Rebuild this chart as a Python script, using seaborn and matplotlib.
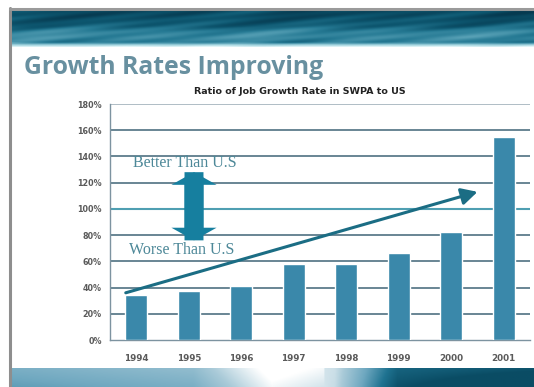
import numpy as np
import pandas as pd
import matplotlib
matplotlib.use("Agg")
import matplotlib.pyplot as plt
import seaborn as sns
from matplotlib.patches import FancyArrowPatch
from matplotlib.colors import LinearSegmentedColormap

# ---------------- data ----------------
years = ["1994", "1995", "1996", "1997", "1998", "1999", "2000", "2001"]
ratio_pct = [34, 37, 41, 58, 58, 66, 82, 155]
y_ticks = [0, 20, 40, 60, 80, 100, 120, 140, 160, 180]

slide_title = "Growth Rates Improving"
chart_title = "Ratio of Job Growth Rate in SWPA to US"
better_label = "Better Than U.S"
worse_label = "Worse Than U.S"

# annotation anchors (category index, percent)
trend_start = (-0.2, 36)
trend_end = (6.5, 113)
dbl_top = (1.1, 128)
dbl_bottom = (1.1, 76)
better_pos = (-0.06, 135)
worse_pos = (-0.13, 69)

df = pd.DataFrame({"year": years, "ratio": ratio_pct})

sns.set_theme(style="white")
plt.rcParams["font.family"] = ["DejaVu Sans"]

W, H = 534, 387
fig = plt.figure(figsize=(W / 100, H / 100), dpi=100)
fig.patch.set_facecolor("white")

# ---------------- slide background ----------------
bg = fig.add_axes([0, 0, 1, 1], zorder=-5)
bg.set_xlim(0, W)
bg.set_ylim(H, 0)
bg.axis("off")

# top banner
bx = np.linspace(0, 1, 520)
by = np.linspace(0, 1, 40)
X, Y = np.meshgrid(bx, by)
prof = np.interp(Y, [0, 0.15, 0.45, 0.6, 0.75, 0.88, 0.94, 1.0],
                 [0.1, 0.12, 0.25, 0.45, 0.5, 0.42, 0.75, 0.95])
streak = 0.09 * np.sin(X * 23 + Y * 9) * np.sin(X * 7 + 1.3) + 0.05 * np.sin(X * 41 + Y * 30)
val = np.clip(prof + streak * (1 - 0.8 * (Y > 0.9)), 0, 1)
cmap_top = LinearSegmentedColormap.from_list(
    "topb", ["#063a50", "#0d566f", "#267a94", "#4f9ab0", "#9fd2dd", "#eefcfd"])
bg.imshow(val, cmap=cmap_top, vmin=0, vmax=1, aspect="auto",
          extent=(10, W, 47, 9), interpolation="bilinear", zorder=1)

# bottom banner
bx2 = np.linspace(0, 1, 520)
by2 = np.linspace(0, 1, 20)
X2, Y2 = np.meshgrid(bx2, by2)
hprof = np.interp(X2, [0, 0.35, 0.5, 0.62, 0.74, 1.0], [0.45, 0.55, 0.97, 0.85, 0.15, 0.05])
hprof = hprof + (X2 > 0.6) * (X2 - 0.6) * (-0.8) * (Y2) + 0.1 * (1 - Y2) * (X2 < 0.6)
cmap_bot = LinearSegmentedColormap.from_list(
    "botb", ["#0a4c64", "#1f7391", "#6fa8c0", "#a9cad8", "#ffffff"])
bg.imshow(np.clip(hprof, 0, 1), cmap=cmap_bot, vmin=0, vmax=1, aspect="auto",
          extent=(10, W, H, 368), interpolation="bilinear", zorder=1)

# gray frame
bg.plot([10, 10], [8, H], color="#8e8e8e", lw=2.2, zorder=3)
bg.plot([10, W], [8.5, 8.5], color="#9a9a9a", lw=2.2, zorder=3)

# slide title
fig.text(24 / W, 1 - 68 / H, slide_title, fontsize=17.8, fontweight="bold",
         family=["Open Sans", "DejaVu Sans"], color="#6890a0", va="center", ha="left")
fig.text(300 / W, 1 - 92 / H, chart_title, fontsize=6.8, fontweight="bold",
         color="#222222", ha="center", va="center")

# ---------------- chart ----------------
ax = fig.add_axes([110 / W, 1 - 340 / H, 420 / W, 236 / H])
ax.set_facecolor("none")
sns.barplot(data=df, x="year", y="ratio", color="#3a88aa", width=0.42,
            saturation=1, ax=ax, zorder=3)
ax.set_ylim(0, 180)
ax.set_xlim(-0.5, len(years) - 0.5)
ax.set_yticks(y_ticks)
ax.set_yticklabels([f"{t}%" for t in y_ticks])
ax.set_xlabel("")
ax.set_ylabel("")

for t in y_ticks[1:]:
    c = "#4f9fb2" if t == 100 else ("#a9b8c0" if t == 180 else "#5d7c8b")
    ax.axhline(t, color=c, lw=1.5 if t == 100 else 1.3, zorder=1)

for s in ["top", "right"]:
    ax.spines[s].set_visible(False)
for s in ["left", "bottom"]:
    ax.spines[s].set_color("#7d93a0")
    ax.spines[s].set_linewidth(1.0)

ax.tick_params(axis="y", length=4, width=0.8, color="#7d93a0", direction="out",
               labelsize=5.8, labelcolor="#5a5a5a", pad=2)
ax.tick_params(axis="x", length=0, labelsize=6.3, labelcolor="#5a5a5a", pad=10)
ax.set_xticks(np.arange(-0.5, len(years), 1), minor=True)
ax.tick_params(axis="x", which="minor", length=3, width=0.8, color="#7d93a0")
for lab in ax.get_xticklabels() + ax.get_yticklabels():
    lab.set_fontweight("bold")

# trend arrow
ax.annotate("", xy=trend_end, xytext=trend_start,
            arrowprops=dict(arrowstyle="-|>,head_length=0.8,head_width=0.42",
                            color="#1b6d84", lw=2.2, shrinkA=0, shrinkB=0),
            zorder=5)

# double arrow
style = "simple,head_length=0.7,head_width=2.5,tail_width=1.05"
for a, b in [(dbl_bottom, dbl_top), (dbl_top, dbl_bottom)]:
    ax.add_patch(FancyArrowPatch(a, b, arrowstyle=style, mutation_scale=13,
                                 color="#167f9f", zorder=5, shrinkA=0, shrinkB=0,
                                 lw=0))

ax.text(*better_pos, better_label, family=["Liberation Serif", "DejaVu Serif"],
        fontsize=11.5, color="#4d8898", va="center", ha="left", zorder=6)
ax.text(*worse_pos, worse_label, family=["Liberation Serif", "DejaVu Serif"],
        fontsize=11.5, color="#4d8898", va="center", ha="left", zorder=6)

fig.savefig("out.png", dpi=100)
